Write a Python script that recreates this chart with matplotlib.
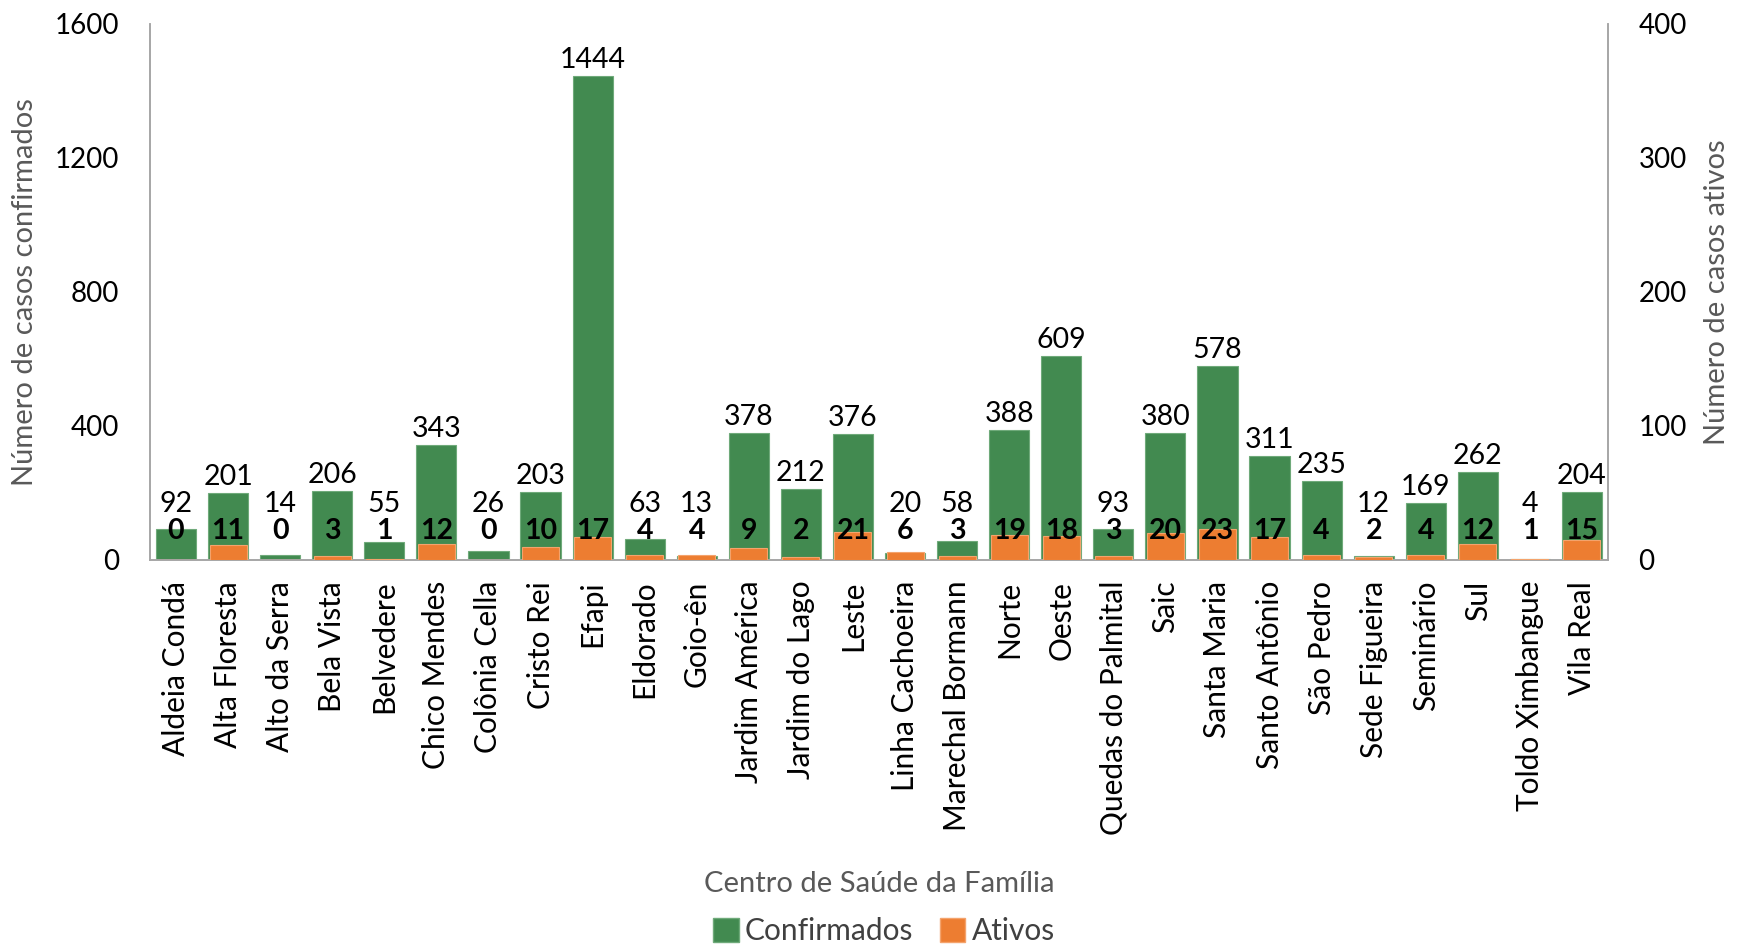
import matplotlib
matplotlib.use("Agg")
import matplotlib.pyplot as plt
import numpy as np
from matplotlib.patches import Patch

plt.rcParams['font.family'] = ['Lato', 'DejaVu Sans']

categories = ["Aldeia Condá", "Alta Floresta", "Alto da Serra", "Bela Vista", "Belvedere",
              "Chico Mendes", "Colônia Cella", "Cristo Rei", "Efapi", "Eldorado", "Goio-ên",
              "Jardim América", "Jardim do Lago", "Leste", "Linha Cachoeira", "Marechal Bormann",
              "Norte", "Oeste", "Quedas do Palmital", "Saic", "Santa Maria", "Santo Antônio",
              "São Pedro", "Sede Figueira", "Seminário", "Sul", "Toldo Ximbangue", "Vila Real"]
confirmados = [92, 201, 14, 206, 55, 343, 26, 203, 1444, 63, 13, 378, 212, 376, 20, 58,
               388, 609, 93, 380, 578, 311, 235, 12, 169, 262, 4, 204]
ativos = [0, 11, 0, 3, 1, 12, 0, 10, 17, 4, 4, 9, 2, 21, 6, 3,
          19, 18, 3, 20, 23, 17, 4, 2, 4, 12, 1, 15]

green = '#428A50'
orange = '#ED7D31'
gray_txt = '#595959'
spine_c = '#A6A6A6'

W, H = 1742, 944
fig = plt.figure(figsize=(W/100, H/100), dpi=100)
ax = fig.add_axes([150/W, 1-560/H, (1608-150)/W, (560-24)/H])
ax2 = ax.twinx()

x = np.arange(len(categories))
ax.bar(x, confirmados, width=0.77, color=green, edgecolor='#6FAA7A', linewidth=0.8, zorder=2)
ax2.bar(x, ativos, width=0.71, color=orange, edgecolor='#F4A36C', linewidth=0.8, zorder=3)

ax.set_ylim(0, 1600)
ax2.set_ylim(0, 400)
ax.set_xlim(-0.5, len(categories)-0.5)
ax.set_yticks([0, 400, 800, 1200, 1600])
ax2.set_yticks([0, 100, 200, 300, 400])
ax.set_xticks(x)
ax.set_xticklabels(categories, rotation=90, fontsize=21.5)
ax.tick_params(axis='y', labelsize=20, length=0, pad=22)
ax2.tick_params(axis='y', labelsize=20, length=0, pad=22)
ax.tick_params(axis='x', length=0, pad=15)

for a in (ax, ax2):
    a.spines['top'].set_visible(False)
    for s in ('left', 'right', 'bottom'):
        a.spines[s].set_color(spine_c)
        a.spines[s].set_linewidth(1.2)

ax.set_ylabel("Número de casos confirmados", fontsize=21, color=gray_txt, labelpad=12)
ax2.set_ylabel("Número de casos ativos", fontsize=21, color=gray_txt, labelpad=12)
fig.text(879/W, 1-884/H, "Centro de Saúde da Família", fontsize=21, color=gray_txt,
         ha='center', va='center')

for xi, v in zip(x, confirmados):
    yc = max(v + 48, 166)
    ax.text(xi, yc, str(v), ha='center', va='center', fontsize=20.5, color='black', zorder=5)
for xi, v in zip(x, ativos):
    ax2.text(xi, 22, str(v), ha='center', va='center', fontsize=20.5,
             fontweight='bold', color='black', zorder=6)

handles = [Patch(facecolor=green, edgecolor='#6FAA7A', label='Confirmados'),
           Patch(facecolor=orange, edgecolor='#F4A36C', label='Ativos')]
fig.legend(handles=handles, loc='center', bbox_to_anchor=(884/W, 1-931/H), ncol=2,
           frameon=False, fontsize=21.5, handlelength=0.85, handleheight=0.85,
           handletextpad=0.2, columnspacing=0.9, labelcolor='#404040')

fig.savefig('out.png', dpi=100)
